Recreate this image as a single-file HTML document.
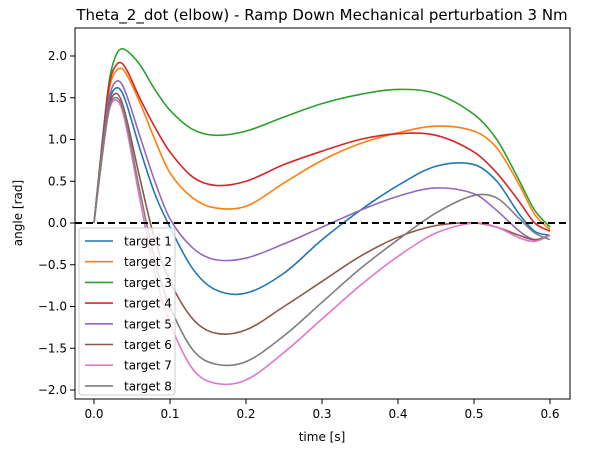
<!DOCTYPE html>
<html><head><meta charset="utf-8"><style>
body{margin:0;background:#fff}
svg text{font-family:"DejaVu Sans","Liberation Sans",sans-serif;fill:#000}
</style></head><body>
<svg id="chart" width="602" height="455" xmlns="http://www.w3.org/2000/svg">
<text x="322" y="20" font-size="15" text-anchor="middle">Theta_2_dot (elbow) - Ramp Down Mechanical perturbation 3 Nm</text>
<g id="plot"></g>
<rect x="75" y="28" width="495" height="371" fill="none" stroke="#000" stroke-width="1"/>
<text x="322" y="441" font-size="12" text-anchor="middle">time [s]</text>
<text transform="translate(22,213) rotate(-90)" font-size="12" text-anchor="middle">angle [rad]</text>
</svg>
<script>
const times=[0,0.01,0.02,0.03,0.04,0.06,0.08,0.1,0.13,0.16,0.2,0.25,0.3,0.35,0.4,0.45,0.5,0.53,0.56,0.58,0.6];
const seriesNames=["target 1","target 2","target 3","target 4","target 5","target 6","target 7","target 8"];
const colors=["#1f77b4","#ff7f0e","#2ca02c","#d62728","#9467bd","#8c564b","#e377c2","#7f7f7f"];
const s1=[0,0.8,1.45,1.62,1.5,0.9,0.35,-0.05,-0.55,-0.8,-0.84,-0.6,-0.2,0.15,0.45,0.68,0.7,0.5,0.1,-0.1,-0.15];
const s2=[0,0.85,1.6,1.83,1.82,1.45,1.0,0.6,0.3,0.18,0.2,0.48,0.75,0.95,1.08,1.16,1.1,0.9,0.45,0.1,-0.08];
const s3=[0,0.9,1.7,2.03,2.08,1.9,1.6,1.35,1.12,1.05,1.1,1.27,1.43,1.54,1.6,1.55,1.3,1.0,0.5,0.15,-0.05];
const s4=[0,0.85,1.65,1.9,1.88,1.5,1.15,0.85,0.55,0.45,0.5,0.7,0.86,1.0,1.07,1.05,0.85,0.6,0.25,0.0,-0.1];
const s5=[0,0.8,1.5,1.7,1.6,1.05,0.5,0.05,-0.3,-0.44,-0.42,-0.25,-0.05,0.15,0.32,0.42,0.35,0.15,-0.1,-0.2,-0.15];
const s6=[0,0.75,1.4,1.55,1.35,0.55,-0.2,-0.7,-1.15,-1.32,-1.28,-1.0,-0.7,-0.4,-0.17,-0.03,0.0,-0.05,-0.15,-0.2,-0.15];
const s7=[0,0.75,1.35,1.47,1.25,0.3,-0.6,-1.2,-1.75,-1.92,-1.88,-1.55,-1.15,-0.75,-0.4,-0.12,0.0,-0.05,-0.18,-0.22,-0.15];
const s8=[0,0.75,1.37,1.5,1.3,0.4,-0.45,-1.0,-1.52,-1.69,-1.66,-1.35,-0.95,-0.55,-0.2,0.12,0.33,0.3,0.05,-0.12,-0.2];
const allSeries=[s1,s2,s3,s4,s5,s6,s7,s8];
const xTicks=[0,0.1,0.2,0.3,0.4,0.5,0.6];
const xTickLabels=["0.0","0.1","0.2","0.3","0.4","0.5","0.6"];
const yTicks=[-2,-1.5,-1,-0.5,0,0.5,1,1.5,2];
const yTickLabels=["\u22122.0","\u22121.5","\u22121.0","\u22120.5","0.0","0.5","1.0","1.5","2.0"];

const NS="http://www.w3.org/2000/svg";
const g=document.getElementById('plot');
function X(t){return 94+t*760;}
function Y(v){return 223-v*83.5;}
function mk(tag,attrs,parent){const e=document.createElementNS(NS,tag);for(const k in attrs)e.setAttribute(k,attrs[k]);(parent||g).appendChild(e);return e;}

xTicks.forEach((t,i)=>{
  const tk=mk('line',{x1:X(t),x2:X(t),y1:399,y2:404,stroke:'#000'});
  
  
  const tx=mk('text',{x:X(t),y:418,'font-size':12,'text-anchor':'middle'});
  tx.textContent=xTickLabels[i];
  
  
});
yTicks.forEach((v,i)=>{
  const tk=mk('line',{x1:70,x2:75,y1:Y(v),y2:Y(v),stroke:'#000'});
  
  
  const tx=mk('text',{x:67,y:Y(v)+4,'font-size':12,'text-anchor':'end'});
  tx.textContent=yTickLabels[i];
  
  
});

function smooth(pts){
  const n=pts.length,m=[];
  for(let i=0;i<n;i++){
    const a=pts[Math.max(0,i-1)],b=pts[Math.min(n-1,i+1)];
    m.push((b[1]-a[1])/(b[0]-a[0]));
  }
  let d='M'+pts[0][0]+','+pts[0][1];
  for(let i=0;i<n-1;i++){
    const p1=pts[i],p2=pts[i+1],h=p2[0]-p1[0];
    d+=' C'+(p1[0]+h/3)+','+(p1[1]+m[i]*h/3)+' '+(p2[0]-h/3)+','+(p2[1]-m[i+1]*h/3)+' '+p2[0]+','+p2[1];
  }
  return d;
}
allSeries.forEach((s,k)=>{
  const pts=s.map((v,i)=>[X(times[i]),Y(v)]);
  const p=mk('path',{d:smooth(pts),fill:'none',stroke:colors[k],'stroke-width':1.6});
  
  
});
const zl=mk('line',{x1:75,x2:570,y1:Y(0),y2:Y(0),stroke:'#000','stroke-width':2,'stroke-dasharray':'7,4'});



const lg=mk('g',{});


mk('rect',{x:79,y:228,width:96,height:167,rx:3,fill:'#fff','fill-opacity':0.8,stroke:'#ccc'},lg);
seriesNames.forEach((n,k)=>{
  const y=241+k*20.7;
  const e=mk('g',{},lg);
  
  
  mk('line',{x1:85,x2:113,y1:y,y2:y,stroke:colors[k],'stroke-width':1.6},e);
  const t=mk('text',{x:124,y:y+4.5,'font-size':12},e);
  t.textContent=n;
});
</script>
</body></html>
